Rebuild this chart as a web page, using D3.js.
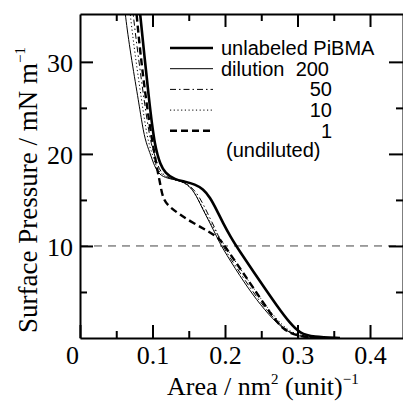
<!DOCTYPE html>
<html>
<head>
<meta charset="utf-8">
<script src="https://cdn.jsdelivr.net/npm/d3@7"></script>
<style>
  body { margin: 0; background: #fff; }
  svg { display: block; }
  .axis path, .axis line { stroke: #000; stroke-width: 2; }
  .axis text { font-family: "Liberation Serif", "Times New Roman", serif; font-size: 26px; fill: #000; }
  .legend text { font-family: "Liberation Sans", Arial, sans-serif; font-size: 20px; fill: #000; }
</style>
</head>
<body>
<svg width="403" height="403"></svg>
<script>
// Isotherm data: area (nm^2 per unit) vs surface pressure (mN/m)
const unlabeledArea = [0.0805, 0.0828, 0.0887, 0.0952, 0.0993, 0.1034, 0.1069, 0.1103, 0.1172, 0.1310, 0.1448, 0.1586, 0.1697, 0.1793, 0.1886, 0.1972, 0.2076, 0.2186, 0.2497, 0.2724, 0.2897, 0.3034, 0.3214, 0.3586];
const unlabeledPi   = [37.5, 35.2, 30.8, 25.9, 23.2, 21.0, 19.9, 19.0, 17.9, 17.2, 17.0, 16.7, 16.2, 15.3, 13.9, 12.5, 11.0, 9.6, 6.0, 3.4, 1.6, 0.5, 0.1, 0.0];

const dil200Area = [0.0598, 0.0621, 0.0699, 0.0804, 0.0848, 0.0897, 0.0966, 0.1011, 0.1076, 0.1172, 0.1310, 0.1407, 0.1517, 0.1610, 0.1697, 0.1793, 0.1886, 0.1954, 0.2207, 0.2437, 0.2662, 0.2851, 0.3034, 0.3310];
const dil200Pi   = [37.5, 35.2, 30.8, 25.9, 23.7, 21.5, 20.1, 19.0, 17.9, 17.4, 17.2, 17.0, 16.5, 15.4, 13.9, 12.5, 11.0, 9.9, 6.7, 4.1, 2.0, 0.7, 0.1, 0.0];

const dil50Area = [0.0708, 0.0731, 0.0800, 0.0883, 0.0966, 0.1021, 0.1062, 0.1117, 0.1241, 0.1379, 0.1490, 0.1600, 0.1697, 0.1793, 0.1890, 0.1959, 0.2248, 0.2483, 0.2717, 0.2910, 0.3172];
const dil50Pi   = [37.5, 35.2, 30.8, 25.9, 21.5, 20.1, 19.0, 17.9, 17.3, 17.1, 16.7, 15.9, 14.6, 13.0, 11.5, 10.0, 6.6, 3.9, 1.7, 0.4, 0.0];

const dil10Area = [0.0667, 0.0690, 0.0759, 0.0848, 0.0931, 0.0993, 0.1034, 0.1097, 0.1214, 0.1352, 0.1462, 0.1566, 0.1662, 0.1766, 0.1876, 0.2000, 0.2290, 0.2524, 0.2745, 0.2938, 0.3228];
const dil10Pi   = [37.5, 35.2, 30.8, 25.9, 21.5, 20.1, 19.0, 17.9, 17.4, 17.1, 16.8, 16.0, 14.6, 13.0, 11.5, 10.0, 6.6, 3.9, 1.7, 0.4, 0.0];

const undilArea = [0.0756, 0.0779, 0.0834, 0.0910, 0.0993, 0.1041, 0.1076, 0.1103, 0.1145, 0.1241, 0.1379, 0.1559, 0.1748, 0.1886, 0.1954, 0.2028, 0.2345, 0.2621, 0.2800, 0.2989, 0.3310];
const undilPi   = [37.5, 35.2, 30.8, 25.9, 21.5, 19.4, 17.9, 16.9, 15.0, 14.2, 13.4, 12.5, 11.7, 11.0, 10.5, 9.6, 6.0, 2.7, 0.9, 0.2, 0.0];

const xMajor = [0, 0.1, 0.2, 0.3, 0.4];
const xMinor = [0.05, 0.15, 0.25, 0.35];
const yMajor = [10, 20, 30];
const yMinor = [5, 15, 25];

const legendLabels = ["unlabeled PiBMA", "dilution", "", "", "", "(undiluted)"];
const legendNumbers = ["", "200", "50", "10", "1", ""];

// Layout
const plotLeft = 80, plotRight = 403, plotTop = 14, plotBottom = 338;

const svg = d3.select("svg");

const x = d3.scaleLinear().domain([0, 0.4455]).range([plotLeft, plotRight]);
const y = d3.scaleLinear().domain([0, 35.2]).range([plotBottom, plotTop]);

// clip
svg.append("clipPath").attr("id", "plot")
  .append("rect")
  .attr("x", plotLeft).attr("y", plotTop)
  .attr("width", plotRight - plotLeft).attr("height", plotBottom - plotTop);

// reference line at 10 mN/m
svg.append("line")
  .attr("x1", x(0)).attr("x2", x(0.4455))
  .attr("y1", y(10)).attr("y2", y(10))
  .attr("stroke", "#444")
  .attr("stroke-width", 1)
  .attr("stroke-dasharray", "8,6");

// series
const series = [
  { area: unlabeledArea, pi: unlabeledPi, width: 2.6, dash: null },
  { area: dil200Area, pi: dil200Pi, width: 1, dash: null },
  { area: dil50Area, pi: dil50Pi, width: 1, dash: "6,3,1.5,3" },
  { area: dil10Area, pi: dil10Pi, width: 1, dash: "1.2,2.5" },
  { area: undilArea, pi: undilPi, width: 2.4, dash: "7,4" }
];

const line = d3.line()
  .x(d => x(d[0]))
  .y(d => y(d[1]))
  .curve(d3.curveBasis);

const curves = svg.append("g").attr("clip-path", "url(#plot)");
series.forEach(s => {
  curves.append("path")
    .datum(d3.zip(s.area, s.pi))
    .attr("fill", "none")
    .attr("stroke", "#000")
    .attr("stroke-width", s.width)
    .attr("stroke-dasharray", s.dash)
    .attr("d", line);
});

// Axes: major ticks inward with labels
const fmtX = d => d === 0 ? "0" : d3.format(".1f")(d);

const xAxis = svg.append("g")
  .attr("class", "axis")
  .attr("transform", `translate(0, ${plotBottom})`)
  .call(d3.axisBottom(x).tickValues(xMajor).tickFormat(fmtX).tickSizeInner(-13).tickSizeOuter(0).tickPadding(8));
xAxis.selectAll(".tick text").filter(d => d === 0).attr("x", -8);

svg.append("g")
  .attr("class", "axis")
  .attr("transform", `translate(0, ${plotBottom})`)
  .call(d3.axisBottom(x).tickValues(xMinor).tickFormat("").tickSizeInner(-7).tickSizeOuter(0))
  .select(".domain").remove();

svg.append("g")
  .attr("class", "axis")
  .attr("transform", `translate(${plotLeft}, 0)`)
  .call(d3.axisLeft(y).tickValues(yMajor).tickSizeInner(-13).tickSizeOuter(0).tickPadding(7))
  .selectAll(".tick text").attr("dy", "0.38em");

svg.append("g")
  .attr("class", "axis")
  .attr("transform", `translate(${plotLeft}, 0)`)
  .call(d3.axisLeft(y).tickValues(yMinor).tickFormat("").tickSizeInner(-7).tickSizeOuter(0))
  .select(".domain").remove();

// top and right frame ticks
svg.append("g")
  .attr("class", "axis")
  .attr("transform", `translate(0, ${plotTop})`)
  .call(d3.axisTop(x).tickValues(xMajor.slice(1)).tickFormat("").tickSizeInner(-13).tickSizeOuter(0));
svg.append("g")
  .attr("class", "axis")
  .attr("transform", `translate(0, ${plotTop})`)
  .call(d3.axisTop(x).tickValues(xMinor).tickFormat("").tickSizeInner(-7).tickSizeOuter(0))
  .select(".domain").remove();

svg.append("g")
  .attr("class", "axis")
  .attr("transform", `translate(${plotRight}, 0)`)
  .call(d3.axisRight(y).tickValues(yMajor).tickFormat("").tickSizeInner(-14).tickSizeOuter(0));
svg.append("g")
  .attr("class", "axis")
  .attr("transform", `translate(${plotRight}, 0)`)
  .call(d3.axisRight(y).tickValues(yMinor).tickFormat("").tickSizeInner(-7).tickSizeOuter(0))
  .select(".domain").remove();

// Axis titles
const xTitle = svg.append("text")
  .attr("x", 167).attr("y", 395)
  .style("font-family", "'Liberation Serif', 'Times New Roman', serif")
  .style("font-size", "26px");
xTitle.append("tspan").text("Area / nm");
xTitle.append("tspan").attr("dy", -11).style("font-size", "15px").text("2");
xTitle.append("tspan").attr("dy", 11).text(" (unit)");
xTitle.append("tspan").attr("dy", -11).style("font-size", "15px").text("\u22121");

const yTitle = svg.append("text")
  .attr("transform", "translate(37, 333) rotate(-90)")
  .style("font-family", "'Liberation Serif', 'Times New Roman', serif")
  .style("font-size", "27px");
yTitle.append("tspan").text("Surface Pressure / mN m");
yTitle.append("tspan").attr("dy", -12).style("font-size", "15px").text("\u22121");

// Legend
const legend = svg.append("g").attr("class", "legend");
const rowY = i => 48 + i * 20.7;
series.forEach((s, i) => {
  legend.append("line")
    .attr("x1", 170).attr("x2", 213)
    .attr("y1", rowY(i)).attr("y2", rowY(i))
    .attr("stroke", "#000")
    .attr("stroke-width", s.width)
    .attr("stroke-dasharray", s.dash);
});
legendLabels.forEach((t, i) => {
  if (!t) return;
  legend.append("text")
    .attr("x", i === 5 ? 226 : 221)
    .attr("y", i === 5 ? 157 : rowY(i) + 7)
    .text(t);
});
legendNumbers.forEach((t, i) => {
  if (!t) return;
  legend.append("text")
    .attr("x", i === 1 ? 329 : 332)
    .attr("y", rowY(i) + 7)
    .attr("text-anchor", "end")
    .text(t);
});
</script>
</body>
</html>
